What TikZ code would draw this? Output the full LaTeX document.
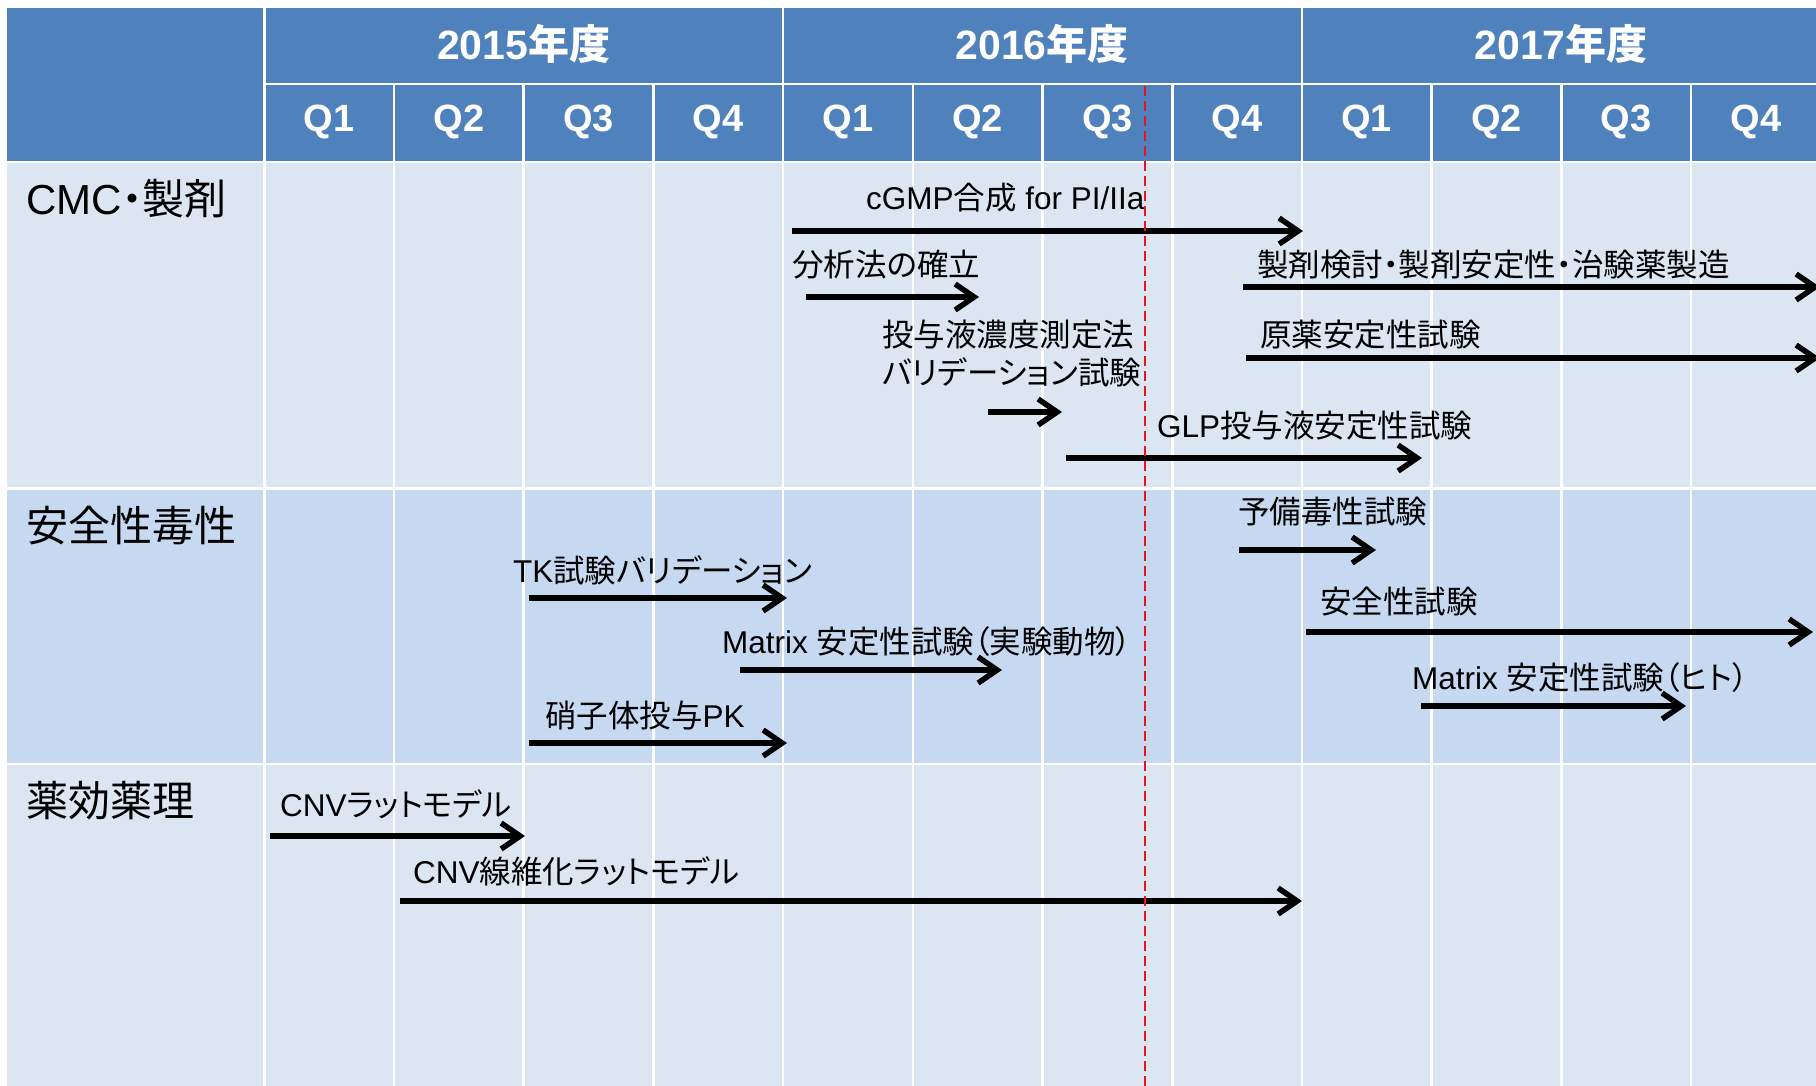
\documentclass[tikz,border=0pt]{standalone}
\usepackage{fontspec}
\setmainfont{Liberation Sans}
\newfontfamily\jpf[RawFeature=+palt]{Noto Sans CJK JP}
\newcommand\jtxt[1]{{\jpf #1}}
\usetikzlibrary{arrows.meta}
\definecolor{hdrblue}{HTML}{4F81BD}
\definecolor{rowlight}{HTML}{DCE6F2}
\definecolor{rowmid}{HTML}{C6D9F1}
\definecolor{nowred}{HTML}{E8141B}
\begin{document}
\begin{tikzpicture}[x=1pt,y=-1pt,
  gridline/.style={white,line width=2.6pt},
  bar/.style={line width=5.5pt,-{Straight Barb[length=19pt,width=26pt]}},
  hdr/.style={text=white,font=\bfseries\fontsize{41}{48}\selectfont,inner sep=0},
  qtr/.style={text=white,font=\bfseries\fontsize{38}{44}\selectfont,inner sep=0},
  sect/.style={anchor=west,inner sep=0,font=\fontsize{42}{50}\selectfont},
  item/.style={anchor=west,inner sep=0,font=\fontsize{31.5}{37.5}\selectfont,align=left},
  nowline/.style={nowred,line width=2pt,dash pattern=on 10pt off 5pt}]
\useasboundingbox (0,0) rectangle (1816,1085);
\begin{scope}
\clip (0,0) rectangle (1816,1085);
% backgrounds
\fill[hdrblue] (7,7.5) rectangle (1830,162);
\fill[rowlight] (7,162) rectangle (1830,488);
\fill[rowmid] (7,488) rectangle (1830,764);
\fill[rowlight] (7,764) rectangle (1830,1090);
% grid
\foreach \k in {0,4,8,12} \draw[gridline] ({264.3+129.7*\k},7.5) -- ++(0,1090);
\foreach \k in {1,2,3,5,6,7,9,10,11} \draw[gridline] ({264.3+129.7*\k},84) -- ++(0,1010);
\draw[gridline] (264.3,84) -- (1830,84);
\draw[gridline] (7,162) -- (1830,162);
\draw[gridline] (7,488.3) -- (1830,488.3);
\draw[gridline] (7,763.8) -- (1830,763.8);
% header
\node[hdr] (y2015) at (523.6,44) {2015\jtxt{年度}};
\node[hdr] (y2016) at (1042.2,44) {2016\jtxt{年度}};
\node[hdr] (y2017) at (1561,44) {2017\jtxt{年度}};
\foreach \k/\q in {0/Q1,1/Q2,2/Q3,3/Q4,4/Q1,5/Q2,6/Q3,7/Q4,8/Q1,9/Q2,10/Q3,11/Q4}
  \node[qtr] (q\k) at ({264.3+129.7*(\k+0.5)},122) {\q};
% section labels
\node[sect] (scmc) at (26,199) {CMC\jtxt{・製剤}};
\node[sect] (ssafe) at (26,526) {\jtxt{安全性毒性}};
\node[sect] (spharm) at (26,801) {\jtxt{薬効薬理}};
% item labels
\node[item] (t1) at (866,198) {cGMP\jtxt{合成} for PI/IIa};
\node[item] (t2) at (792,265) {\jtxt{分析法の確立}};
\node[item] (t3) at (882,353.5) {\jtxt{投与液濃度測定法}\\\jtxt{バリデーション試験}};
\node[item] (t4) at (1157,426) {GLP\jtxt{投与液安定性試験}};
\node[item] (t5) at (1257,265) {\jtxt{製剤検討・製剤安定性・治験薬製造}};
\node[item] (t6) at (1260,335) {\jtxt{原薬安定性試験}};
\node[item] (t7) at (1238,512) {\jtxt{予備毒性試験}};
\node[item] (t8) at (1320,602) {\jtxt{安全性試験}};
\node[item] (t9) at (1412,678) {Matrix \jtxt{安定性試験（ヒト）}};
\node[item] (t10) at (513,570) {TK\jtxt{試験バリデーション}};
\node[item] (t11) at (722,642) {Matrix \jtxt{安定性試験（実験動物）}};
\node[item] (t12) at (545,716) {\jtxt{硝子体投与}PK};
\node[item] (t13) at (280,804) {CNV\jtxt{ラットモデル}};
\node[item] (t14) at (413,871) {CNV\jtxt{線維化ラットモデル}};
% bar coordinates
\coordinate (a1s) at (792,231);  \coordinate (a1e) at (1303,231);
\coordinate (a2s) at (806,297);  \coordinate (a2e) at (979,297);
\coordinate (a3s) at (988,412);  \coordinate (a3e) at (1062,412);
\coordinate (a4s) at (1066,458); \coordinate (a4e) at (1422,458);
\coordinate (a5s) at (1243,287); \coordinate (a5e) at (1820,287);
\coordinate (a6s) at (1246,358); \coordinate (a6e) at (1820,358);
\coordinate (a7s) at (1239,550); \coordinate (a7e) at (1376,550);
\coordinate (a8s) at (1306,632); \coordinate (a8e) at (1813,632);
\coordinate (a9s) at (1421,706); \coordinate (a9e) at (1686,706);
\coordinate (a10s) at (529,598); \coordinate (a10e) at (787,598);
\coordinate (a11s) at (740,670); \coordinate (a11e) at (1002,670);
\coordinate (a12s) at (529,743); \coordinate (a12e) at (787,743);
\coordinate (a13s) at (270,836); \coordinate (a13e) at (525,836);
\coordinate (a14s) at (400,901); \coordinate (a14e) at (1302,901);
\foreach \i in {1,...,14} \draw[bar] (a\i s) -- (a\i e);
% current time line
\coordinate (r1) at (1145,86);
\coordinate (r2) at (1145,1090);
\draw[nowline] (r1) -- (r2);
\end{scope}
\end{tikzpicture}
\end{document}
